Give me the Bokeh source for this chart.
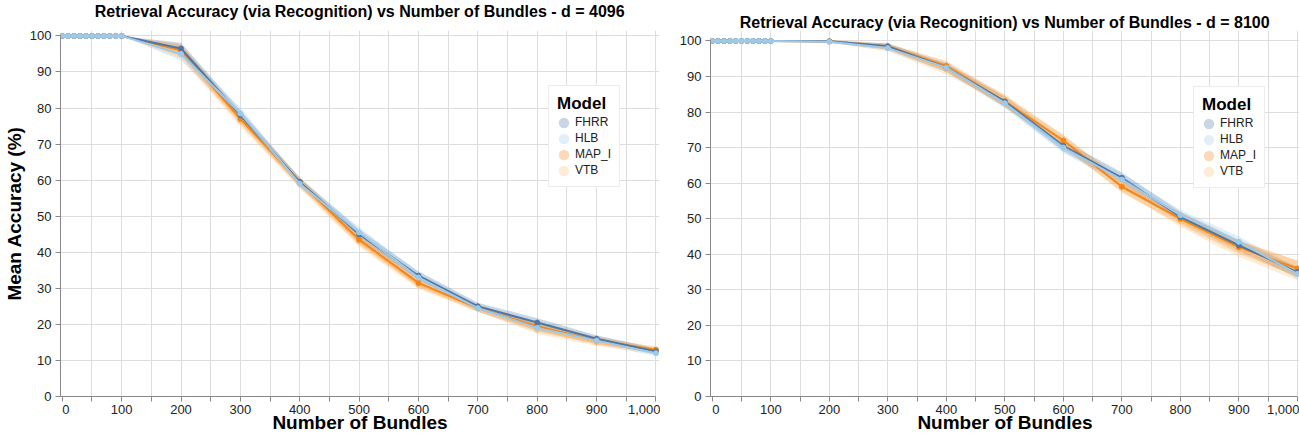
from bokeh.plotting import figure
from bokeh.layouts import row
from bokeh.models import (ColumnDataSource, FixedTicker, Legend, LegendItem,
                          NumeralTickFormatter, Range1d, Title)
from bokeh.embed import file_html
from bokeh.resources import INLINE

FONT = "Liberation Sans"

# Number of bundled items
bundles = [0, 10, 20, 30, 40, 50, 60, 70, 80, 90, 100,
           200, 300, 400, 500, 600, 700, 800, 900, 1000]

models = ["FHRR", "HLB", "MAP_I", "VTB"]
colors = {"FHRR": "#4c78a8", "HLB": "#9ecae9", "MAP_I": "#f58518", "VTB": "#ffbf79"}

# Mean accuracy (%) for d = 4096
acc_4096 = {
    "FHRR":  [100, 100, 100, 100, 100, 100, 100, 100, 100, 100, 100, 96.5, 78.0, 59.5, 45.0, 33.5, 25.0, 20.5, 16.0, 12.5],
    "HLB":   [100, 100, 100, 100, 100, 100, 100, 100, 100, 100, 100, 95.0, 78.5, 59.0, 45.5, 33.0, 24.5, 19.0, 15.5, 12.0],
    "MAP_I": [100, 100, 100, 100, 100, 100, 100, 100, 100, 100, 100, 96.0, 77.0, 59.5, 43.5, 31.5, 24.5, 19.5, 15.5, 13.0],
    "VTB":   [100, 100, 100, 100, 100, 100, 100, 100, 100, 100, 100, 95.5, 76.5, 59.0, 43.0, 31.0, 24.5, 18.5, 15.0, 12.5],
}
# 95% CI half-widths for d = 4096
ci_4096 = {
    "FHRR":  [0, 0, 0, 0, 0, 0, 0, 0, 0, 0, 0, 1.6, 1.4, 1.2, 1.4, 1.2, 1.0, 1.2, 1.0, 0.8],
    "HLB":   [0, 0, 0, 0, 0, 0, 0, 0, 0, 0, 0, 1.8, 1.6, 1.2, 1.5, 1.2, 1.0, 1.2, 1.0, 0.8],
    "MAP_I": [0, 0, 0, 0, 0, 0, 0, 0, 0, 0, 0, 1.6, 1.5, 1.2, 1.4, 1.2, 1.0, 1.2, 1.0, 0.8],
    "VTB":   [0, 0, 0, 0, 0, 0, 0, 0, 0, 0, 0, 1.8, 1.6, 1.3, 1.5, 1.2, 1.0, 1.2, 1.0, 0.8],
}

# Mean accuracy (%) for d = 8100
acc_8100 = {
    "FHRR":  [100, 100, 100, 100, 100, 100, 100, 100, 100, 100, 100, 99.9, 98.5, 92.5, 83.0, 70.5, 61.5, 50.5, 42.5, 35.0],
    "HLB":   [100, 100, 100, 100, 100, 100, 100, 100, 100, 100, 100, 99.8, 98.0, 92.5, 82.5, 70.0, 61.0, 51.0, 43.5, 34.5],
    "MAP_I": [100, 100, 100, 100, 100, 100, 100, 100, 100, 100, 100, 99.9, 98.5, 93.0, 83.0, 72.0, 59.0, 50.0, 42.0, 36.0],
    "VTB":   [100, 100, 100, 100, 100, 100, 100, 100, 100, 100, 100, 99.8, 98.0, 92.0, 83.5, 71.5, 59.5, 49.5, 41.5, 35.5],
}
# 95% CI half-widths for d = 8100
ci_8100 = {
    "FHRR":  [0, 0, 0, 0, 0, 0, 0, 0, 0, 0, 0, 0.3, 0.8, 1.2, 1.4, 1.5, 1.5, 1.5, 1.5, 1.5],
    "HLB":   [0, 0, 0, 0, 0, 0, 0, 0, 0, 0, 0, 0.3, 0.8, 1.2, 1.4, 1.5, 1.5, 1.5, 1.5, 1.5],
    "MAP_I": [0, 0, 0, 0, 0, 0, 0, 0, 0, 0, 0, 0.3, 0.8, 1.4, 1.6, 1.6, 1.6, 1.6, 1.8, 2.2],
    "VTB":   [0, 0, 0, 0, 0, 0, 0, 0, 0, 0, 0, 0.3, 0.8, 1.4, 1.6, 1.6, 1.6, 1.8, 2.2, 2.8],
}

y_ticks = [0, 10, 20, 30, 40, 50, 60, 70, 80, 90, 100]
x_ticks = [0, 100, 200, 300, 400, 500, 600, 700, 800, 900, 1000]
x_minor = [50, 150, 250, 350, 450, 550, 650, 750, 850, 950]
x_grid = [50, 100, 150, 200, 250, 300, 350, 400, 450, 500, 550, 600, 650,
          700, 750, 800, 850, 900, 950, 1000]

draw_order = ["VTB", "MAP_I", "FHRR", "HLB"]
NB = "\u00a0"


def panel(title, acc, ci, width, x_end, y_end, border_left, border_right,
          title_standoff, spacer, y_label, legend_xy):
    # a little room past the data limits keeps edge markers visible
    p = figure(width=width, height=435, title=None,
               x_range=Range1d(-3, x_end), y_range=Range1d(0, y_end),
               output_backend="svg", toolbar_location=None,
               min_border_left=border_left, min_border_right=border_right,
               min_border_top=29, min_border_bottom=39)
    p.outline_line_color = None
    p.background_fill_color = "white"

    # optional gap between the heading and the plot area
    if spacer is not None:
        p.add_layout(Title(text=" ", text_font_size="1px", standoff=spacer), "above")
    p.add_layout(Title(text=title, align="center", vertical_align="bottom",
                       text_font=FONT, text_font_size="16px",
                       text_font_style="bold", text_color="black",
                       standoff=title_standoff), "above")

    # confidence bands
    for m in models:
        lo = [v - c for v, c in zip(acc[m], ci[m])]
        hi = [v + c for v, c in zip(acc[m], ci[m])]
        p.varea(x=bundles, y1=lo, y2=hi, fill_color=colors[m], fill_alpha=0.3)

    # mean lines with points
    for m in draw_order:
        src = ColumnDataSource(dict(x=bundles, y=acc[m]))
        p.line("x", "y", source=src, line_color=colors[m], line_width=2)
        p.scatter("x", "y", source=src, size=5, fill_color=colors[m],
                  line_color=colors[m])

    # legend swatches: thick-outlined circles read as soft filled dots
    items = []
    for m in models:
        r = p.scatter(x=[-500], y=[-500], size=5, fill_color=None,
                      line_color=colors[m], line_alpha=0.3, line_width=5.2)
        items.append(LegendItem(label=m, renderers=[r]))
    leg = Legend(items=items, location=legend_xy, title="Model",
                 title_text_font=FONT, title_text_font_style="bold",
                 title_text_font_size="17px", title_text_color="black",
                 title_standoff=0,
                 label_text_font=FONT, label_text_font_size="12px",
                 label_text_color="#222222",
                 label_height=16, label_standoff=5,
                 glyph_width=13, glyph_height=13, spacing=0,
                 padding=8, margin=0, border_line_color="#d9d9d9",
                 background_fill_alpha=1.0)
    p.add_layout(leg)

    p.xaxis.ticker = FixedTicker(ticks=x_ticks, minor_ticks=x_minor)
    p.yaxis.ticker = FixedTicker(ticks=y_ticks)
    p.xaxis.formatter = NumeralTickFormatter(format="0,0")
    # first label sits flush right of its tick
    p.xaxis.major_label_overrides = {0: NB * 2 + "0"}

    for ax in (p.xaxis, p.yaxis):
        ax.axis_line_color = "#888888"
        ax.major_tick_line_color = "#888888"
        ax.major_tick_out = 5
        ax.major_tick_in = 0
        ax.major_label_text_font = FONT
        ax.major_label_text_font_size = "13px"
        ax.major_label_text_color = "#222222"
        ax.axis_label_text_font = FONT
        ax.axis_label_text_font_size = "19px"
        ax.axis_label_text_font_style = "bold"
        ax.axis_label_text_color = "black"
    p.xaxis.bounds = (-3, 1000)
    p.yaxis.bounds = (0, 100)
    p.xaxis.minor_tick_line_color = "#888888"
    p.xaxis.minor_tick_out = 5
    p.xaxis.minor_tick_in = 0
    p.yaxis.minor_tick_line_color = None
    p.xaxis.major_label_standoff = 0
    p.yaxis.major_label_standoff = 4
    p.xaxis.axis_label = "Number of Bundles"
    p.xaxis.axis_label_standoff = -8
    if y_label:
        p.yaxis.axis_label = y_label
        p.yaxis.axis_label_standoff = 2

    p.xgrid.ticker = FixedTicker(ticks=x_grid)
    p.xgrid.grid_line_color = "#dddddd"
    p.xgrid.bounds = (0, 100)
    p.ygrid.grid_line_color = "#dddddd"
    p.ygrid.bounds = (0, 1000)
    return p


left = panel("Retrieval Accuracy (via Recognition) vs Number of Bundles - d = 4096",
             acc_4096, ci_4096, 660, 1006, 101.5, 60, 1, 0, 8,
             "Mean Accuracy (%)", (488, 209))
right = panel("Retrieval Accuracy (via Recognition) vs Number of Bundles - d = 8100",
              acc_8100, ci_8100, 639, 1003.5, 102.95, 50, 0, 0, None, None,
              (483, 208))

layout = row(left, right)
open("out.html", "w").write(file_html(layout, INLINE))
